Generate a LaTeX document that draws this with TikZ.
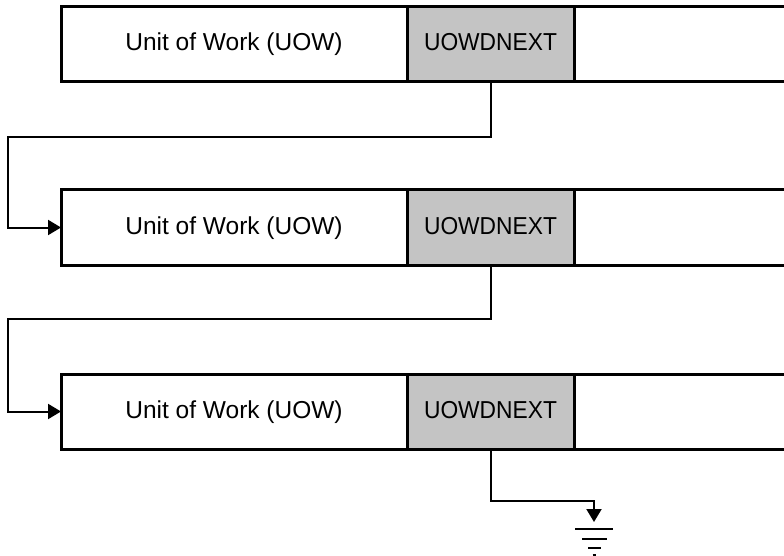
\documentclass[tikz,border=0pt]{standalone}
\usepackage{fontspec}
\setmainfont{Liberation Sans}
\usetikzlibrary{arrows.meta}
\begin{document}
\begin{tikzpicture}[x=1pt,y=-1pt,
  box/.style={draw, line width=3pt, outer sep=0pt, minimum height=75pt, inner sep=0pt,
    text height=18pt, text depth=5pt, font=\fontsize{24.5}{29}\selectfont},
  uowbox/.style={box, minimum width=346pt},
  nextbox/.style={box, minimum width=167pt, fill=black!23},
  edgeline/.style={line width=3pt},
  link/.style={line width=2pt, -{Triangle[length=13pt,width=15pt]}},
  gnd/.style={line width=2.5pt}
]
\useasboundingbox (0,0) rectangle (784,556);

% boxes
\node[uowbox, anchor=north west] (u1) at (61,7) {Unit of Work (UOW)};
\node[nextbox, anchor=west] (n1) at (u1.east) {\scalebox{0.93}[1]{UOWDNEXT}};
\node[uowbox, anchor=north west] (u2) at (61,190) {Unit of Work (UOW)};
\node[nextbox, anchor=west] (n2) at (u2.east) {\scalebox{0.93}[1]{UOWDNEXT}};
\node[uowbox, anchor=north west] (u3) at (61,374) {Unit of Work (UOW)};
\node[nextbox, anchor=west] (n3) at (u3.east) {\scalebox{0.93}[1]{UOWDNEXT}};

% open right parts
\foreach \n in {n1,n2,n3}{
  \draw[edgeline] (\n.north east) -- ++(230,0);
  \draw[edgeline] (\n.south east) -- ++(230,0);
}

% connectors
\coordinate (c1) at (8,137);
\coordinate (c2) at (8,319);
\coordinate (t3) at (594,501);
\coordinate (g) at (594,522);
\draw[link] (n1.south) |- (c1) |- (u2.west);
\draw[link] (n2.south) |- (c2) |- (u3.west);
\draw[link] (n3.south) |- (t3) -- (g);

% ground symbol
\draw[gnd] (575,529) -- (613,529);
\draw[gnd] (582,539) -- (607,539);
\draw[gnd] (588,548) -- (601,548);
\draw[gnd] (592.5,555) -- (595.5,555);
\end{tikzpicture}
\end{document}
